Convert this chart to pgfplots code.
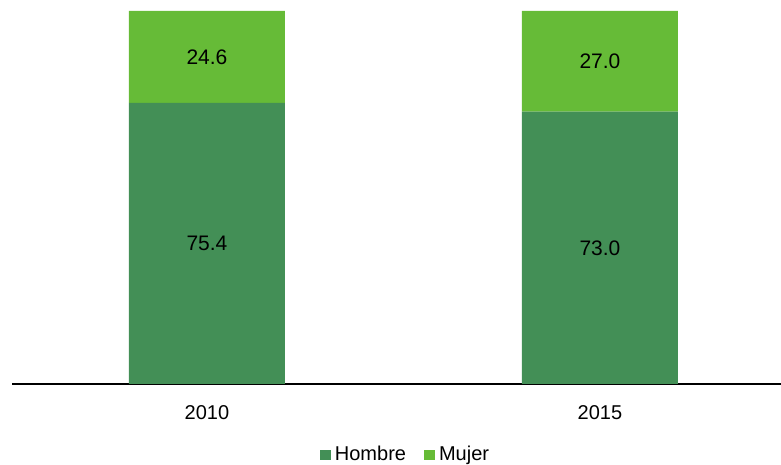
\documentclass[border=0pt]{standalone}
\usepackage{fontspec}
\setmainfont{Liberation Sans}
\usepackage{pgfplots}
\pgfplotsset{compat=1.18}
\definecolor{hombre}{RGB}{67,143,86}
\definecolor{mujer}{RGB}{102,187,55}
\begin{document}
\begin{tikzpicture}[x=1pt,y=1pt]
\useasboundingbox (0,0) rectangle (390.5,232.5);
\begin{axis}[
  at={(6pt,40.5pt)}, anchor=south west,
  scale only axis, width=384.5pt, height=186.5pt,
  ybar stacked, bar width=78pt,
  xmin=-0.496, xmax=1.4606, ymin=0, ymax=100,
  axis x line*=bottom, hide y axis,
  x axis line style={black, line width=0.6pt},
  xtick=data, xticklabels={2010,2015},
  xtick style={draw=none},
  xticklabel style={yshift=-7pt},
  major tick length=0pt,
  /pgf/number format/assume math mode=true,
  font=\fontsize{10}{12}\selectfont,
  ticklabel style={font=\fontsize{10}{12}\selectfont},
  point meta=rawy,
  nodes near coords={\pgfmathprintnumber[fixed,fixed zerofill,precision=1,assume math mode=true]{\pgfplotspointmeta}},
  every node near coord/.append style={anchor=center, font=\fontsize{10.5}{12}\selectfont, black},
  legend columns=2,
  legend style={draw=none, fill=none, at={(0.5,-0.1903)}, anchor=center, xshift=5pt,
    font=\fontsize{10}{12}\selectfont, /tikz/every even column/.append style={column sep=7pt},
    inner sep=0pt},
  legend image code/.code={\fill[#1] (0pt,-2.5pt) rectangle (5.5pt,2.5pt);},
  legend cell align=left,
]
\addplot[fill=hombre, draw=none] coordinates {(0,75.4) (1,73.0)};
\addplot[fill=mujer, draw=none] coordinates {(0,24.6) (1,27.0)};
\legend{Hombre,Mujer}
\end{axis}
\end{tikzpicture}
\end{document}
